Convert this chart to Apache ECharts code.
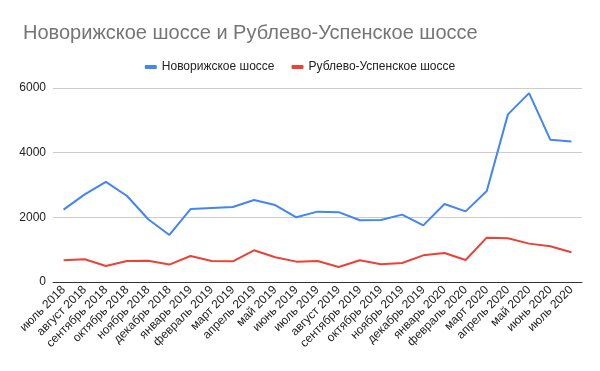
<!DOCTYPE html>
<html><head><meta charset="utf-8">
<script src="https://cdn.jsdelivr.net/npm/echarts@6/dist/echarts.min.js"></script>
<style>html,body{margin:0;padding:0;background:#fff}#c{width:600px;height:371px}</style>
</head><body><div id="c"></div>
<script>
const categories = ["июль 2018","август 2018","сентябрь 2018","октябрь 2018","ноябрь 2018","декабрь 2018","январь 2019","февраль 2019","март 2019","апрель 2019","май 2019","июнь 2019","июль 2019","август 2019","сентябрь 2019","октябрь 2019","ноябрь 2019","декабрь 2019","январь 2020","февраль 2020","март 2020","апрель 2020","май 2020","июнь 2020","июль 2020"];
const novorizhskoe = [2240,2710,3095,2660,1940,1455,2257,2288,2318,2535,2380,2000,2176,2160,1910,1915,2083,1752,2411,2185,2813,5184,5842,4402,4349];
const rublevo = [671,702,495,649,660,538,804,649,640,980,764,630,650,464,671,547,588,825,897,680,1372,1351,1187,1103,918];
const yTicks = [0,2000,4000,6000];

const chart = echarts.init(document.getElementById('c'));
chart.setOption({
  animation:false,
  backgroundColor:'#fff',
  title:{text:'Новорижское шоссе и Рублево-Успенское шоссе',left:18,top:18,
    textStyle:{fontFamily:'Liberation Sans',fontSize:20,fontWeight:'normal',color:'#757575'}},
  legend:{top:56,left:'center',itemWidth:12,itemHeight:4,icon:'roundRect',itemGap:17,
    textStyle:{fontFamily:'Liberation Sans',fontSize:12,color:'#222'},
    data:['Новорижское шоссе','Рублево-Успенское шоссе']},
  grid:{left:53,right:18,top:88,bottom:89,containLabel:false},
  xAxis:{type:'category',data:categories,boundaryGap:true,
    axisLine:{lineStyle:{color:'#333',width:1}},axisTick:{show:false},
    axisLabel:{rotate:45,interval:0,fontFamily:'Liberation Sans',fontSize:12,color:'#222',margin:6}},
  yAxis:{type:'value',min:yTicks[0],max:yTicks[yTicks.length-1],interval:2000,
    axisLine:{show:false},axisTick:{show:false},
    splitLine:{lineStyle:{color:'#ccc',width:1}},
    axisLabel:{fontFamily:'Liberation Sans',fontSize:12,color:'#222',margin:7,formatter:v=>String(v)}},
  series:[
    {name:'Новорижское шоссе',type:'line',data:novorizhskoe,symbol:'none',
      lineStyle:{color:'#4285f4',width:2},itemStyle:{color:'#4285f4'}},
    {name:'Рублево-Успенское шоссе',type:'line',data:rublevo,symbol:'none',
      lineStyle:{color:'#ea4335',width:2},itemStyle:{color:'#ea4335'}}
  ]
});
</script></body></html>
